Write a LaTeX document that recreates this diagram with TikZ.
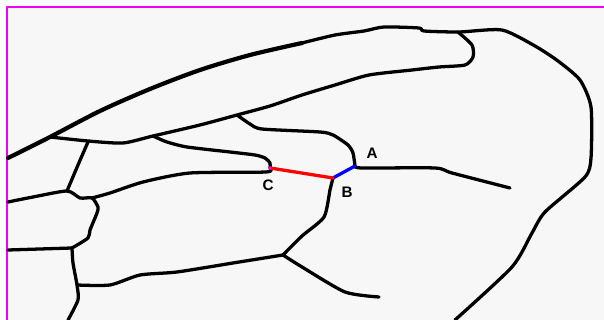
\documentclass[tikz,border=0pt]{standalone}
\usepackage{fontspec}
\setsansfont{Liberation Sans}
\definecolor{wingmag}{RGB}{240,0,240}
\begin{document}
\begin{tikzpicture}[x=0.03cm, y=-0.03cm, line cap=round, line join=round,
  vein/.style={line width=2.8pt, black},
  costa/.style={line width=3.6pt, black},
  cross/.style={line width=2.8pt},
  lbl/.style={font=\sffamily\bfseries\fontsize{13}{15}\selectfont, inner sep=0pt}]
\useasboundingbox (0,0) rectangle (604,320);
\fill[white] (0,0) rectangle (604,320);
\fill[black!3] (8,8) rectangle (604,320);
\draw[wingmag, line width=2.2pt] (7,320) -- (7,7) -- (604,7);

% crossvein end points
\coordinate (A) at (355,166);
\coordinate (B) at (333,178);
\coordinate (C) at (270,168);

% leading edge
\draw[costa] plot[smooth, tension=0.5] coordinates {(8,158) (50,137) (100,111) (150,89) (200,70) (250,55) (302,43)};
\draw[vein] plot[smooth, tension=0.4] coordinates {(302,43) (335,35) (364,31) (384,27) (419,28) (424,31) (459,32) (502,30)
  (535,46) (558,61) (580,80) (591,107) (591,158) (585,177) (545,212) (532,233) (512,267) (455,320)};

% radial veins
\draw[vein] plot[smooth, tension=0.4] coordinates {(50,137) (88,141) (123,143) (153,136) (200,125) (237,115) (270,106) (302,95)
  (335,85) (369,75) (412,70) (439,67) (465,65) (473,57) (472,45) (458,32)};
\draw[vein] plot[smooth, tension=0.4] coordinates {(237,115) (250,124) (262,129) (320,132) (333,135) (348,145) (353,153) (A)};
\draw[vein] plot[smooth, tension=0.4] coordinates {(A) (362,168) (435,168) (452,173) (510,188)};
\draw[vein] plot[smooth, tension=0.4] coordinates {(153,136) (167,142) (187,147) (230,152) (255,155) (265,158) (270,163) (C)};
\draw[vein] plot[smooth, tension=0.4] coordinates {(C) (266,172) (190,173) (143,182) (110,193) (92,198)};
\draw[vein] plot[smooth, tension=0.4] coordinates {(B) (330,190) (324,217) (302,236) (283,255)};
\draw[vein] plot[smooth, tension=0.4] coordinates {(283,255) (302,267) (345,292) (379,297)};
\draw[vein] plot[smooth, tension=0.4] coordinates {(283,255) (233,263) (177,272) (140,275) (110,285) (77,285)};

% basal cells
\draw[vein] plot[smooth, tension=0.4] coordinates {(88,142) (78,165) (67,191)};
\draw[vein] plot[smooth, tension=0.4] coordinates {(8,202) (33,197) (67,191) (80,198) (92,198) (98,207) (97,213) (90,230) (88,238) (72,248)};
\draw[vein] (8,250) -- (72,248);
\draw[vein] plot[smooth, tension=0.4] coordinates {(72,248) (73,263) (77,285) (78,300) (68,320)};

% crossveins
\draw[cross, blue] (A) -- (B);
\draw[cross, red] (B) -- (C);
\fill[wingmag] (C) circle (1.8);

\node[lbl] (lblA) at (372,153) {A};
\node[lbl] (lblB) at (347,192) {B};
\node[lbl] (lblC) at (268,185) {C};
\end{tikzpicture}
\end{document}
